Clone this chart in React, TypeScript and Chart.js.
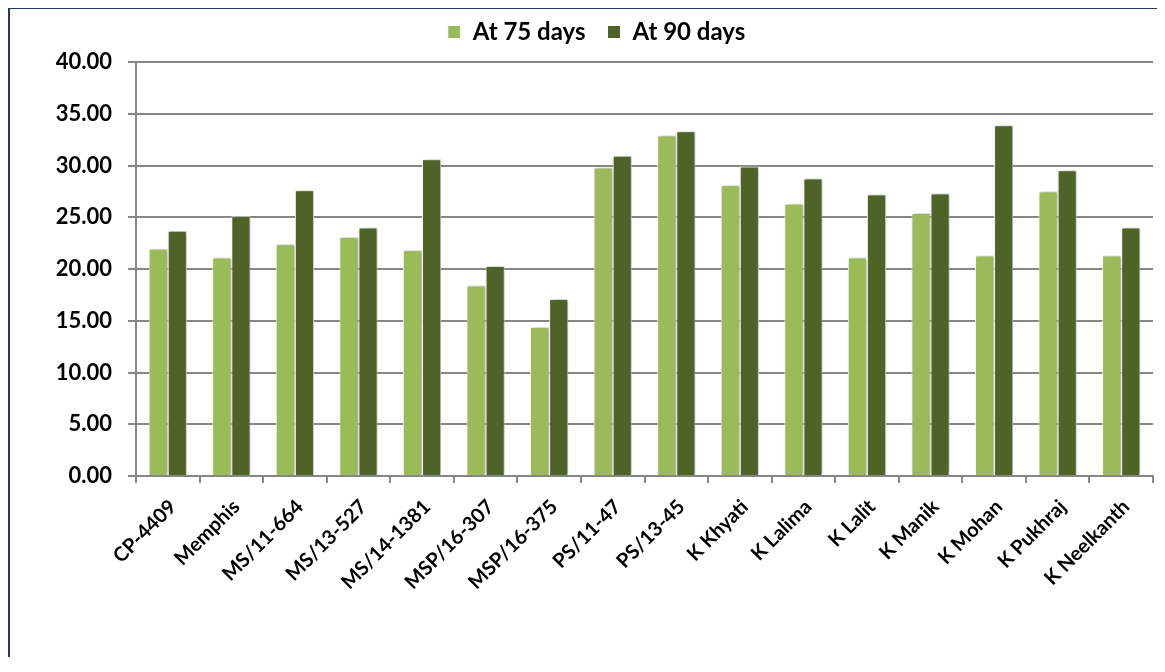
import React, { useEffect, useRef } from "react";
import { Chart, registerables } from "chart.js";

Chart.register(...registerables);

const categories = [
  "CP-4409",
  "Memphis",
  "MS/11-664",
  "MS/13-527",
  "MS/14-1381",
  "MSP/16-307",
  "MSP/16-375",
  "PS/11-47",
  "PS/13-45",
  "K Khyati",
  "K Lalima",
  "K Lalit",
  "K Manik",
  "K Mohan",
  "K Pukhraj",
  "K Neelkanth",
];

const at75Days = [21.95, 21.1, 22.4, 23.1, 21.8, 18.4, 14.4, 29.8, 32.9, 28.1, 26.3, 21.1, 25.4, 21.3, 27.5, 21.3];
const at90Days = [23.7, 25.1, 27.6, 24.0, 30.6, 20.3, 17.1, 30.95, 33.3, 29.9, 28.75, 27.2, 27.3, 33.9, 29.55, 24.0];

const seriesNames = ["At 75 days", "At 90 days"];
const yMin = 0;
const yMax = 40;
const yStep = 5;

const FONT = "Lato, 'Open Sans', 'Noto Sans', sans-serif";

export default function App() {
  const ref = useRef<HTMLCanvasElement | null>(null);

  useEffect(() => {
    if (!ref.current) return;
    const shadow = {
      id: "barShadow",
      beforeDatasetsDraw(c: any) {
        const ctx = c.ctx;
        ctx.save();
        ctx.shadowColor = "rgba(0,0,0,0.35)";
        ctx.shadowBlur = 4;
        ctx.shadowOffsetX = 1.5;
        ctx.shadowOffsetY = 0;
      },
      afterDatasetsDraw(c: any) {
        c.ctx.restore();
      },
    };
    const legendHeight = {
      id: "legendHeight",
      afterInit(c: any) {
        const lg = c.legend;
        if (!lg) return;
        const orig = lg.fit;
        lg.fit = function () {
          orig.call(this);
          this.height = 64;
        };
      },
    };

    const chart = new Chart(ref.current, {
      type: "bar",
      data: {
        labels: categories,
        datasets: [
          {
            label: seriesNames[0],
            data: at75Days,
            backgroundColor: "#9bbb59",
            borderColor: "#ffffff",
            borderWidth: 1,
          },
          {
            label: seriesNames[1],
            data: at90Days,
            backgroundColor: "#4f6228",
            borderColor: "#ffffff",
            borderWidth: 1,
          },
        ],
      },
      options: {
        animation: false,
        responsive: false,
        maintainAspectRatio: false,
        devicePixelRatio: 1,
        datasets: {
          bar: {
            categoryPercentage: 0.6,
            barPercentage: 1,
          },
        },
        layout: { padding: { left: 30, right: 12, top: -11, bottom: 0 } },
        plugins: {
          legend: {
            display: true,
            position: "top",
            align: "center",
            labels: {
              boxWidth: 13,
              boxHeight: 13,
              padding: 22,
              color: "#000000",
              font: { family: FONT, size: 24, weight: "bold" },
            },
          },
          tooltip: { enabled: false },
        },
        scales: {
          x: {
            grid: {
              display: true,
              drawOnChartArea: false,
              drawTicks: true,
              tickLength: 7,
              color: "#868686",
              lineWidth: 2,
              offset: true,
            },
            border: { display: true, color: "#868686", width: 2 },
            ticks: {
              color: "#000000",
              font: { family: FONT, size: 20, weight: "bold" },
              minRotation: 45,
              maxRotation: 45,
              autoSkip: false,
              padding: 12,
              labelOffset: 5,
            },
            afterFit(scale: any) {
              scale.height = 173;
            },
          },
          y: {
            min: yMin,
            max: yMax,
            grid: {
              color: "#868686",
              lineWidth: 2,
              drawTicks: true,
              tickLength: 8,
            },
            border: { display: true, color: "#868686", width: 2 },
            ticks: {
              stepSize: yStep,
              color: "#000000",
              padding: 16,
              font: { family: FONT, size: 22, weight: "bold" },
              callback: (v: any) => Number(v).toFixed(2),
            },
            afterFit(scale: any) {
              scale.width = 96;
            },
          },
        },
      },
      plugins: [shadow, legendHeight],
    } as any);
    return () => chart.destroy();
  }, []);

  return (
    <div
      style={{
        position: "relative",
        width: 1157,
        height: 650,
        marginTop: -1,
        borderTop: "2px solid #1f3864",
        borderLeft: "2px solid #1f3864",
        boxSizing: "border-box",
        background: "#ffffff",
      }}
    >
      <canvas
        ref={ref}
        width={1155}
        height={640}
        style={{ position: "absolute", left: 0, top: 0, width: 1155, height: 640 }}
      />
    </div>
  );
}
